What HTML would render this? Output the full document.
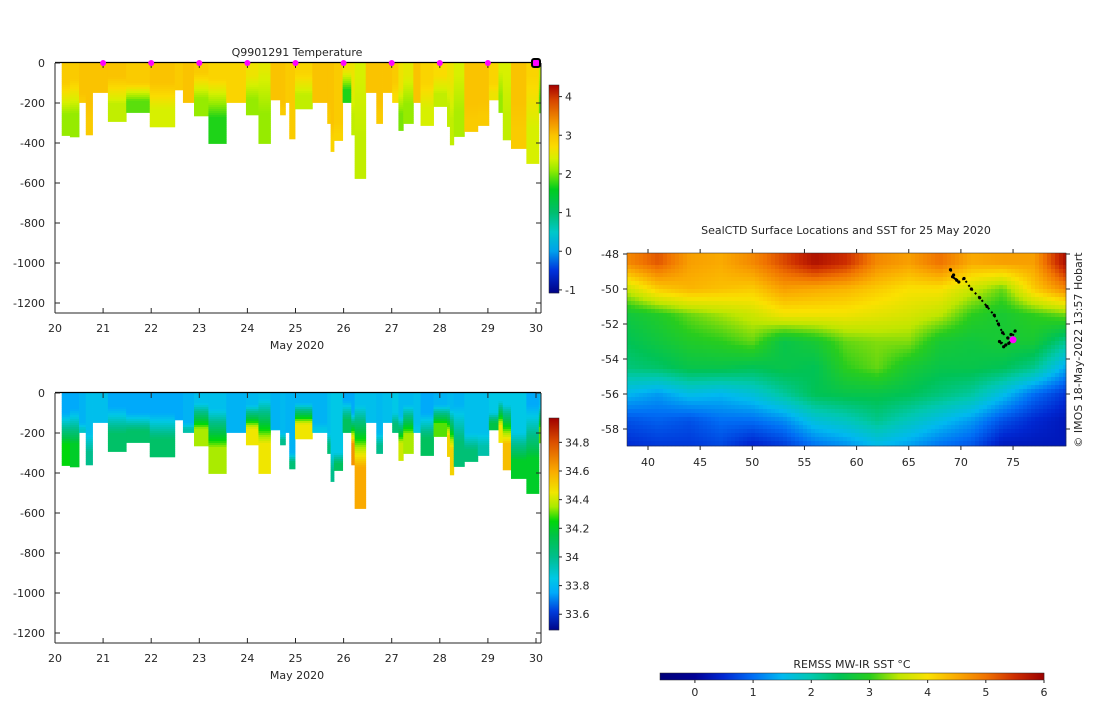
<!DOCTYPE html>
<html><head><meta charset="utf-8"><style>
body{margin:0;background:#fff;}
svg text{font-family:"DejaVu Sans","Liberation Sans",sans-serif;font-size:11px;fill:#262626;}
</style></head><body>
<svg id="fig" width="1100" height="700" xmlns="http://www.w3.org/2000/svg">
<g id="top"></g>
<g id="bot"></g>
<g id="map"></g>
</svg>
<script>
// ---- section data ----
const castStart = [20.14,20.31,20.50,20.64,20.78,21.10,21.48,21.97,22.49,22.66,22.89,23.19,23.56,23.97,24.23,24.48,24.68,24.79,24.87,24.99,25.35,25.66,25.73,25.80,25.98,26.16,26.23,26.46,26.68,26.81,27.01,27.14,27.24,27.45,27.60,27.87,28.15,28.21,28.29,28.51,28.79,29.02,29.22,29.31,29.48,29.80,30.06];
const castDepth = [363,370,198,360,148,293,248,320,135,198,265,403,198,260,403,185,260,198,380,230,198,303,443,388,198,360,578,148,303,148,198,338,303,198,313,218,318,410,368,343,313,185,248,385,428,503,250];
const surfT = [2.9,2.9,3.0,3.0,3.0,3.0,2.9,3.0,2.9,3.0,2.9,2.8,2.8,2.6,2.5,3.0,3.0,2.9,2.9,2.8,3.0,3.0,3.0,2.9,2.6,2.6,2.4,3.0,3.0,3.0,2.9,2.6,2.5,3.0,2.8,2.7,2.6,2.6,2.4,3.0,3.0,2.8,2.4,2.4,3.0,2.8,2.3];
const mixT  = [100,80,150,200,150,70,100,100,130,150,50,80,200,60,30,180,200,200,300,50,150,200,300,300,40,100,60,150,200,150,100,120,60,150,100,60,60,80,60,200,200,100,40,60,200,60,60];
const deepT = [2.1,2.1,2.9,2.9,3.0,2.3,1.9,2.4,2.9,3.0,2.1,1.7,2.7,2.1,2.1,3.0,2.9,2.8,2.9,2.3,3.0,2.9,2.8,2.8,1.7,2.3,2.3,3.0,2.9,3.0,2.7,2.0,2.1,3.0,2.4,2.3,2.3,2.3,2.2,2.9,2.9,2.6,2.1,2.3,2.9,2.4,1.9];
const surfS = [33.75,33.75,33.78,33.82,33.82,33.75,33.75,33.75,33.75,33.78,33.82,33.82,33.78,33.8,33.82,33.78,33.8,33.78,33.78,33.78,33.78,33.82,33.85,33.85,33.75,33.75,33.82,33.82,33.8,33.82,33.85,33.8,33.8,33.82,33.75,33.78,33.8,33.8,33.78,33.82,33.82,33.85,33.85,33.85,33.85,33.75,33.8];
const deepS = [34.25,34.2,33.9,34.0,33.9,34.08,34.08,34.08,33.78,33.95,34.35,34.35,33.9,34.45,34.45,33.85,34.0,33.9,34.05,34.45,33.85,34.05,34.0,34.1,34.1,34.65,34.6,33.85,34.0,33.85,34.05,34.4,34.35,33.85,34.1,34.3,34.5,34.5,34.05,34.05,33.95,34.15,34.45,34.55,34.2,34.2,34.3];
const markerDays = [21,22,23,24,25,26,27,28,29];
const dayTicks = [20,21,22,23,24,25,26,27,28,29,30];
const depthTicks = [0,-200,-400,-600,-800,-1000,-1200];
const tTicks = [-1,0,1,2,3,4];
const sTicks = [33.6,33.8,34,34.2,34.4,34.6,34.8];
// ---- map data ----
const lonGrid = [38,41,44,47,50,53,56,59,62,65,68,71,74,77,80];
const latGrid = [-48.5,-50,-51.5,-53,-54.5,-56,-57.5,-59];
const sst = [
[4.8,5.2,4.6,4.5,4.8,5.3,5.8,5.5,4.8,4.6,5.0,4.5,4.6,4.6,5.8],
[3.6,4.2,4.4,4.3,4.2,4.6,4.5,4.4,4.2,4.0,4.0,3.6,3.2,4.2,4.8],
[2.7,2.9,3.2,3.4,3.6,3.9,3.9,3.9,3.8,3.7,3.5,3.0,2.8,3.0,3.2],
[2.5,2.7,2.9,3.0,3.2,2.6,2.8,3.2,3.3,3.3,2.8,2.7,2.8,2.8,2.2],
[2.3,2.4,2.6,2.6,2.5,2.6,2.5,3.0,3.2,2.8,2.6,2.6,2.5,2.2,1.4],
[1.5,1.3,1.6,1.5,1.7,2.1,2.5,2.6,2.6,2.5,2.3,2.1,1.6,1.0,0.6],
[0.8,0.9,0.8,1.0,1.0,1.2,1.7,1.9,2.2,1.9,1.6,1.3,0.8,0.5,0.3],
[0.5,0.6,0.6,0.7,0.4,0.6,1.0,1.2,1.5,1.3,1.0,0.8,0.3,0.3,0.3]];
const trackLon = [69.0,69.3,69.6,69.2,69.8,70.3,71.0,71.8,72.5,73.2,73.6,74.0,74.5,74.8,75.2,74.6,74.1,73.7,74.3,75.0];
const trackLat = [-48.9,-49.2,-49.5,-49.3,-49.6,-49.4,-50.0,-50.5,-51.0,-51.5,-52.0,-52.5,-52.8,-52.6,-52.4,-53.1,-53.3,-53.0,-53.2,-52.9];
const mapTicksX = [40,45,50,55,60,65,70,75];
const mapTicksY = [-48,-50,-52,-54,-56,-58];
const sstTicks = [0,1,2,3,4,5,6];

const NS='http://www.w3.org/2000/svg';
function mk(parent,tag,attrs,txt){const e=document.createElementNS(NS,tag);for(const k in attrs)e.setAttribute(k,attrs[k]);if(txt!==undefined)e.textContent=txt;parent.appendChild(e);return e;}
function cmap(stops,v){if(v<=stops[0][0])return rgb(stops[0][1]);for(let i=1;i<stops.length;i++){if(v<=stops[i][0]){const a=stops[i-1],b=stops[i];const f=(v-a[0])/(b[0]-a[0]);return rgb(a[1].map((c,j)=>c+(b[1][j]-c)*f));}}return rgb(stops[stops.length-1][1]);}
function rgb(c){return 'rgb('+c.map(Math.round).join(',')+')';}
const tStops=[[-1.1,[0,0,130]],[-0.5,[0,50,220]],[0,[0,160,235]],[0.5,[0,200,200]],[1,[0,190,110]],[1.6,[0,205,30]],[2.1,[150,235,0]],[2.4,[215,240,0]],[2.7,[250,220,0]],[3.0,[250,195,0]],[3.4,[240,140,0]],[3.9,[215,70,0]],[4.3,[165,0,0]]];
const sStops=[[33.48,[0,0,130]],[33.62,[0,60,220]],[33.75,[0,170,250]],[33.85,[0,200,230]],[34.0,[0,190,140]],[34.15,[0,195,70]],[34.25,[0,215,10]],[34.35,[170,235,0]],[34.45,[240,230,0]],[34.6,[250,170,0]],[34.8,[220,80,0]],[34.97,[160,0,0]]];
const mStops=[[-0.6,[0,0,120]],[0,[0,0,150]],[0.5,[0,40,210]],[1,[0,110,245]],[1.5,[0,185,240]],[2,[0,200,175]],[2.5,[0,195,85]],[3,[40,205,30]],[3.5,[190,230,0]],[4,[250,225,0]],[4.5,[250,170,0]],[5,[240,115,0]],[5.5,[205,45,0]],[6,[155,0,0]]];

function section(g,y0,stops,surf,deep,cb0,cbMin,cbMax,ticks,tickFmt,title,markers){
  const X=d=>55+(d-20)*48.1, Y=z=>y0+z*0.2;
  for(let i=0;i<castStart.length;i++){
    const x1=X(castStart[i]), x2=i+1<castStart.length?X(castStart[i+1]):541;
    const D=castDepth[i];
    for(let z=0;z<D;z+=10){
      const zz=z+5;let v;
      if(zz<mixT[i]) v=surf[i]; else v=surf[i]+(deep[i]-surf[i])*Math.min(1,(zz-mixT[i])/Math.max(20,(D-mixT[i])*0.6));
      const r=mk(g,'rect',{x:x1,y:Y(z),width:x2-x1+0.4,height:Math.min(10,D-z)*0.2+0.3,fill:cmap(stops,v)});
      
      
    }
  }
  mk(g,'line',{x1:55,y1:y0-0.5,x2:541,y2:y0-0.5,stroke:'#000','stroke-width':1.2});
  mk(g,'line',{x1:55,y1:y0,x2:55,y2:y0+250,stroke:'#262626'});
  mk(g,'line',{x1:541,y1:y0,x2:541,y2:y0+250,stroke:'#262626'});
  mk(g,'line',{x1:55,y1:y0+250,x2:541,y2:y0+250,stroke:'#262626'});
  for(const t of depthTicks){const y=Y(-t);mk(g,'line',{x1:55,y1:y,x2:60,y2:y,stroke:'#262626'});mk(g,'line',{x1:536,y1:y,x2:541,y2:y,stroke:'#262626'});
    mk(g,'text',{x:45,y:y+4,'text-anchor':'end',},String(t).replace('-','-'));}
  for(const d of dayTicks){const x=X(d);mk(g,'line',{x1:x,y1:y0+250,x2:x,y2:y0+245,stroke:'#262626'});mk(g,'line',{x1:x,y1:y0,x2:x,y2:y0+5,stroke:'#262626'});
    mk(g,'text',{x:x,y:y0+269,'text-anchor':'middle',},d);}
  mk(g,'text',{x:297,y:y0+286,'text-anchor':'middle',},'May 2020');
  if(title) mk(g,'text',{x:297,y:y0-7,'text-anchor':'middle',},title);
  if(markers){for(const d of markers){const m=mk(g,'circle',{cx:X(d),cy:y0,r:3,fill:'#ff00ff'});}
    mk(g,'rect',{x:X(30)-4,y:y0-4,width:8,height:8,rx:2,fill:'#ff00ff',stroke:'#000','stroke-width':2,});}
  // colorbar
  const ch=cb0[1]-cb0[0], CY=v=>cb0[1]-(v-cbMin)/(cbMax-cbMin)*ch;
  for(let k=0;k<ch;k++){const v=cbMin+(cbMax-cbMin)*(ch-k-0.5)/ch;mk(g,'rect',{x:549,y:cb0[0]+k,width:10,height:1.2,fill:cmap(stops,v)});}
  mk(g,'rect',{x:549,y:cb0[0],width:10,height:ch,fill:'none',stroke:'#262626','stroke-width':0.5,});
  for(const t of ticks){const y=CY(t);mk(g,'line',{x1:559,y1:y,x2:562,y2:y,stroke:'#262626'});mk(g,'text',{x:565,y:y+4,},tickFmt(t));}
}
section(document.getElementById('top'),63,tStops,surfT,deepT,[85,293],-1.08,4.3,tTicks,t=>t,'Q9901291  Temperature',markerDays);
section(document.getElementById('bot'),393,sStops,surfS,deepS,[418,630],33.49,34.97,sTicks,t=>String(+t.toFixed(1)),null,null);

// map
(function(){
  const g=document.getElementById('map');
  const MX=l=>648+(l-40)*10.43, MY=la=>254+(-48-la)*17.5;
  const x0=627,x1=1066,y0=253,y1=446,cs=4;
  function val(lon,lat){
    let fi=(lon-lonGrid[0])/3, fj=(latGrid[0]-lat)/1.5;
    fi=Math.max(0,Math.min(lonGrid.length-1.001,fi));fj=Math.max(0,Math.min(latGrid.length-1.001,fj));
    const i=Math.floor(fi),j=Math.floor(fj),a=fi-i,b=fj-j;
    return sst[j][i]*(1-a)*(1-b)+sst[j][i+1]*a*(1-b)+sst[j+1][i]*(1-a)*b+sst[j+1][i+1]*a*b;
  }
  for(let y=y0;y<y1;y+=cs)for(let x=x0;x<x1;x+=cs){
    const lon=40+(x+cs/2-648)/10.43, lat=-48-(y+cs/2-254)/17.5;
    mk(g,'rect',{x:x,y:y,width:Math.min(cs,x1-x)+0.3,height:Math.min(cs,y1-y)+0.3,fill:cmap(mStops,val(lon,lat))});
  }
  let d='';trackLon.forEach((l,i)=>{d+=(i?'L':'M')+MX(l).toFixed(1)+' '+MY(trackLat[i]).toFixed(1);});
  mk(g,'path',{d:d,fill:'none',stroke:'#000','stroke-width':2,'stroke-dasharray':'2 3',});
  trackLon.forEach((l,i)=>{const c=mk(g,'circle',{cx:MX(l),cy:MY(trackLat[i]),r:1.6,fill:'#000'});});
  mk(g,'circle',{cx:MX(75.0),cy:MY(-52.9),r:3.5,fill:'#ff00ff',});
  mk(g,'rect',{x:x0,y:y0,width:x1-x0,height:y1-y0,fill:'none',stroke:'#262626','stroke-width':0.5});
  for(const t of mapTicksY){const y=MY(t);mk(g,'line',{x1:x0-4,y1:y,x2:x0,y2:y,stroke:'#262626'});mk(g,'line',{x1:x1,y1:y,x2:x1+4,y2:y,stroke:'#262626'});
    mk(g,'text',{x:x0-8,y:y+4,'text-anchor':'end',},t);}
  for(const t of mapTicksX){const x=MX(t);mk(g,'line',{x1:x,y1:y1,x2:x,y2:y1+4,stroke:'#262626'});mk(g,'line',{x1:x,y1:y0-4,x2:x,y2:y0,stroke:'#262626'});
    mk(g,'text',{x:x,y:y1+20,'text-anchor':'middle',},t);}
  mk(g,'text',{x:846,y:234,'text-anchor':'middle',},'SealCTD Surface Locations and SST for 25 May 2020');
  mk(g,'text',{x:1082,y:350,'text-anchor':'middle',transform:'rotate(-90 1082 350)','font-size':'10',},'© IMOS 18-May-2022 13:57 Hobart');
  // horizontal colorbar
  const cx0=660,cx1=1044,CX=v=>cx0+(v+0.6)/6.6*(cx1-cx0);
  for(let x=cx0;x<cx1;x++){const v=-0.6+(x+0.5-cx0)/(cx1-cx0)*6.6;mk(g,'rect',{x:x,y:673,width:1.2,height:7,fill:cmap(mStops,v)});}
  mk(g,'rect',{x:cx0,y:673,width:cx1-cx0,height:7,fill:'none',stroke:'#262626','stroke-width':0.5,});
  for(const t of sstTicks){const x=CX(t);mk(g,'line',{x1:x,y1:680,x2:x,y2:683,stroke:'#262626'});mk(g,'text',{x:x,y:696,'text-anchor':'middle',},t);}
  mk(g,'text',{x:852,y:668,'text-anchor':'middle',},'REMSS MW-IR SST °C');
})();
</script>
</body></html>
